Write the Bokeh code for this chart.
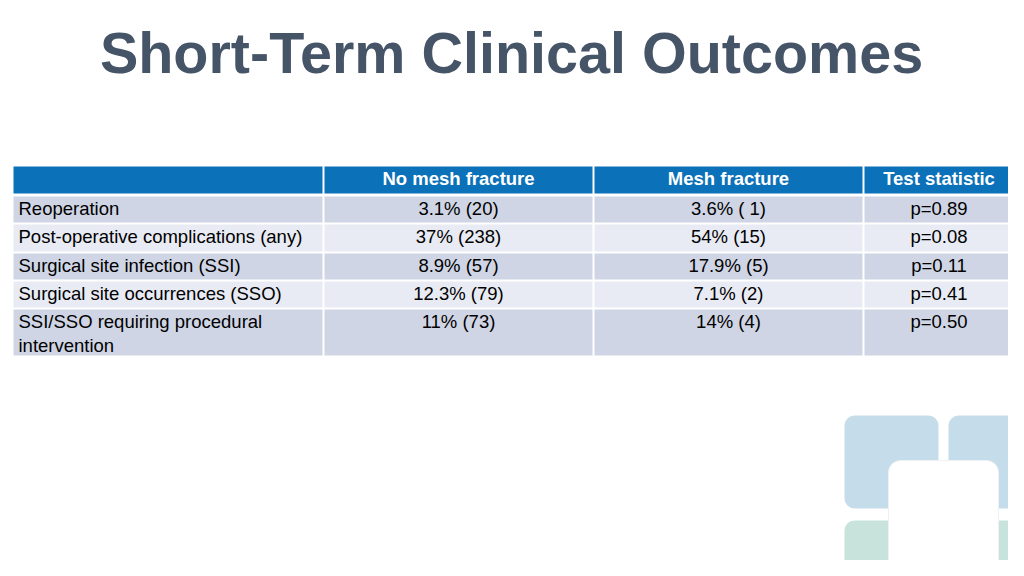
from bokeh.plotting import figure
from bokeh.models import Range1d, ColumnDataSource
from bokeh.core.properties import value
from bokeh.embed import file_html
from bokeh.resources import INLINE

# ---------------- data ----------------
title_text = "Short-Term Clinical Outcomes"
col_headers = ["", "No mesh fracture", "Mesh fracture", "Test statistic"]
row_labels = [
    "Reoperation",
    "Post-operative complications (any)",
    "Surgical site infection (SSI)",
    "Surgical site occurrences (SSO)",
    "SSI/SSO requiring procedural\nintervention",
]
no_mesh = ["3.1% (20)", "37% (238)", "8.9% (57)", "12.3% (79)", "11% (73)"]
mesh = ["3.6% ( 1)", "54% (15)", "17.9% (5)", "7.1% (2)", "14% (4)"]
p_values = ["p=0.89", "p=0.08", "p=0.11", "p=0.41", "p=0.50"]

# ---------------- layout (picture pixel coordinates) ----------------
col_edges = [13, 323, 593, 863, 1014]
header_edges = (166, 193)
row_edges = [(196, 222), (224, 251), (253, 279), (281, 307), (309, 355)]

FONT = "Liberation Sans"
HEADER_BLUE = "#0B71B8"
BAND_DARK = "#CFD5E4"
BAND_LIGHT = "#E8EBF4"
TITLE_COLOR = "#465468"
BODY_SIZE = "18.5px"
BASE_OFF = 12

p = figure(width=1008, height=560, output_backend="svg", toolbar_location=None,
           x_range=Range1d(0, 1008), y_range=Range1d(560, 0),
           min_border=0, background_fill_color="white", border_fill_color="white")
p.axis.visible = False
p.grid.visible = False
p.outline_line_color = None

# title
p.text(x=[511], y=[52], text=[title_text], text_font=value(FONT), text_font_style="bold",
       text_font_size="57.5px", text_color=TITLE_COLOR, text_align="center",
       text_baseline="alphabetic")

# header cells
ncol = len(col_headers)
hsrc = ColumnDataSource(dict(
    left=[col_edges[i] + (1 if i > 0 else 0) for i in range(ncol)],
    right=[col_edges[i + 1] - (1 if i < ncol - 1 else 0) for i in range(ncol)],
    top=[header_edges[0]] * ncol, bottom=[header_edges[1]] * ncol))
p.quad(left="left", right="right", top="top", bottom="bottom", source=hsrc,
       fill_color=HEADER_BLUE, line_color=None)

# body cells
L, R, T, B, C = [], [], [], [], []
for r, (t, b) in enumerate(row_edges):
    for i in range(ncol):
        L.append(col_edges[i] + (1 if i > 0 else 0))
        R.append(col_edges[i + 1] - (1 if i < ncol - 1 else 0))
        T.append(t)
        B.append(b)
        C.append(BAND_DARK if r % 2 == 0 else BAND_LIGHT)
p.quad(left=L, right=R, top=T, bottom=B, fill_color=C, line_color=None)

# header texts
centers = [(col_edges[i] + col_edges[i + 1]) / 2 for i in range(ncol)]
p.text(x=centers[1:], y=[header_edges[0] + BASE_OFF] * 3, text=col_headers[1:],
       text_font=value(FONT), text_font_style="bold", text_font_size=BODY_SIZE,
       text_color="white", text_align="center", text_baseline="alphabetic")

# row labels (multi-line split)
lx, ly, lt = [], [], []
for r, lab in enumerate(row_labels):
    for k, line in enumerate(lab.split("\n")):
        lx.append(col_edges[0] + 5)
        ly.append(row_edges[r][0] + BASE_OFF + 24 * k)
        lt.append(line)
p.text(x=lx, y=ly, text=lt, text_font=value(FONT), text_font_size=BODY_SIZE,
       text_color="black", text_align="left", text_baseline="alphabetic")

# value columns
for ci, vals in zip([1, 2, 3], [no_mesh, mesh, p_values]):
    p.text(x=[centers[ci]] * len(vals), y=[t + BASE_OFF for t, _ in row_edges], text=vals,
           text_font=value(FONT), text_font_size=BODY_SIZE, text_color="black",
           text_align="center", text_baseline="alphabetic")

# decorative logo (bottom right)
p.quad(left=[844, 948], right=[938, 1060], top=[415, 415], bottom=[508, 508],
       fill_color="#C5DDEA", line_color=None, border_radius=10)
p.quad(left=[844, 948], right=[938, 1060], top=[520, 520], bottom=[620, 620],
       fill_color="#C7E3DB", line_color=None, border_radius=10)
p.quad(left=[888], right=[998], top=[460], bottom=[570],
       fill_color="white", line_color="#EEF2F4", border_radius=12)

open("out.html", "w").write(file_html(p, INLINE))
